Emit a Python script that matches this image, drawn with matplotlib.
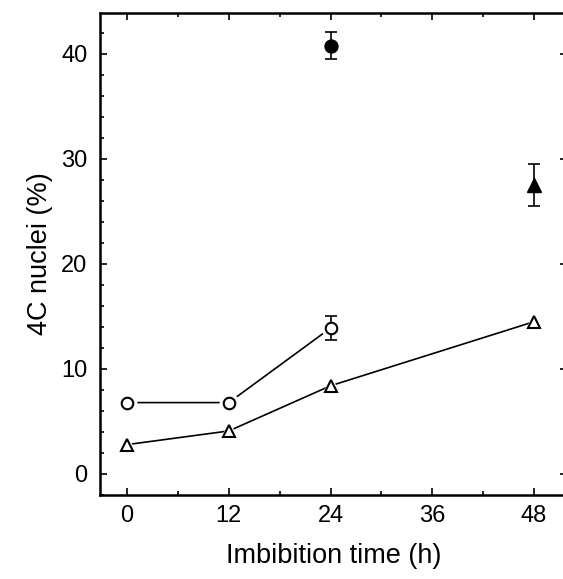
import matplotlib
matplotlib.use("Agg")
import matplotlib.pyplot as plt
from matplotlib.ticker import MultipleLocator

plt.rcParams['font.family'] = ['Liberation Sans', 'DejaVu Sans']

# Data
circ_x = [0, 12, 24]
circ_y = [6.8, 6.8, 13.9]
circ_err = [0, 0, 1.1]

tri_x = [0, 12, 24, 48]
tri_y = [2.8, 4.1, 8.4, 14.5]

fcirc_x = [24]
fcirc_y = [40.8]
fcirc_err = [1.25]

ftri_x = [48]
ftri_y = [27.5]
ftri_err = [2.0]

xticks = [0, 12, 24, 36, 48]
yticks = [0, 10, 20, 30, 40]

fig = plt.figure(figsize=(5.63, 5.79), dpi=100)
ax = fig.add_axes([100/563, 1 - 495/579, 467/563, (495 - 13)/579])

lw = 1.2
ms = 8.3
mew = 1.5

# lines
ax.plot(circ_x, circ_y, '-', color='black', lw=lw, zorder=1)
ax.plot(tri_x, tri_y, '-', color='black', lw=lw, zorder=1)

# white halos for gaps between lines and markers
ax.plot(circ_x, circ_y, 'o', ms=ms + 5, color='white', mec='white', zorder=2)
ax.plot(tri_x, tri_y, '^', ms=ms + 5, color='white', mec='white', zorder=2)

# error bars
ax.errorbar(circ_x, circ_y, yerr=circ_err, fmt='none', ecolor='black',
            elinewidth=1.2, capsize=4.3, capthick=1.2, zorder=3)
ax.errorbar(fcirc_x, fcirc_y, yerr=fcirc_err, fmt='none', ecolor='black',
            elinewidth=1.2, capsize=4.3, capthick=1.2, zorder=3)
ax.errorbar(ftri_x, ftri_y, yerr=ftri_err, fmt='none', ecolor='black',
            elinewidth=1.2, capsize=4.3, capthick=1.2, zorder=3)

# markers
ax.plot(circ_x, circ_y, 'o', ms=ms, mfc='white', mec='black', mew=mew, zorder=4)
ax.plot(tri_x, tri_y, '^', ms=ms + 0.5, mfc='white', mec='black', mew=mew, zorder=4)
ax.plot(fcirc_x, fcirc_y, 'o', ms=ms + 1, mfc='black', mec='black', zorder=4)
ax.plot(ftri_x, ftri_y, '^', ms=ms + 1.5, mfc='black', mec='black', zorder=4)

ax.set_xlim(-3.2, 51.9)
ax.set_ylim(-2.0, 43.9)
ax.set_xticks(xticks)
ax.set_yticks(yticks)
ax.xaxis.set_minor_locator(MultipleLocator(6))
ax.yaxis.set_minor_locator(MultipleLocator(2))

ax.tick_params(which='both', direction='in', top=True, right=True, width=1.2)
ax.tick_params(which='major', length=5, labelsize=17, pad=7)
ax.tick_params(which='minor', length=3)
ax.tick_params(axis='y', which='major', pad=9)

for s in ax.spines.values():
    s.set_linewidth(1.8)

ax.set_xlabel('Imbibition time (h)', fontsize=19.5, labelpad=12)
ax.set_ylabel('4C nuclei (%)', fontsize=19.5, labelpad=6)

fig.savefig('out.png', dpi=100)
